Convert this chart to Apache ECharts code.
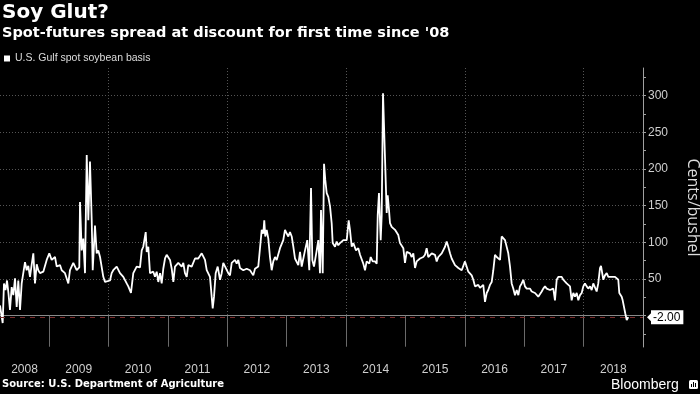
<!DOCTYPE html>
<html><head><meta charset="utf-8">
<script src="https://cdn.jsdelivr.net/npm/echarts@6/dist/echarts.min.js"></script>
<style>html,body{margin:0;padding:0;background:#000}#c{width:700px;height:394px}</style>
</head><body><div id="c"></div>
<script>
// Dates as decimal years
const dates = [
2008.175,2008.220,2008.242,2008.268,2008.293,2008.318,2008.343,2008.372,2008.399,2008.428,2008.456,2008.483,2008.512,2008.540,2008.596,2008.624,2008.651,2008.680,2008.709,2008.736,2008.764,2008.793,2008.820,2008.848,2008.904,2008.961,
2009.005,2009.045,2009.101,2009.130,2009.185,2009.214,2009.269,2009.325,2009.353,2009.409,2009.466,2009.510,2009.522,2009.550,2009.577,2009.606,2009.635,2009.662,2009.690,2009.719,2009.736,2009.774,2009.803,2009.830,2009.859,2009.914,2009.943,2009.971,
2010.027,2010.055,2010.082,2010.140,2010.195,2010.251,2010.308,2010.335,2010.380,2010.419,2010.476,2010.532,2010.561,2010.587,2010.628,2010.645,2010.672,2010.700,2010.756,2010.784,2010.813,2010.840,2010.869,2010.897,2010.924,2010.953,2010.981,
2011.037,2011.066,2011.093,2011.121,2011.177,2011.234,2011.261,2011.289,2011.318,2011.345,2011.402,2011.458,2011.513,2011.571,2011.626,2011.655,2011.710,2011.739,2011.756,2011.778,2011.806,2011.840,2011.879,2011.907,2011.934,2011.963,
2012.018,2012.047,2012.076,2012.131,2012.160,2012.187,2012.215,2012.271,2012.328,2012.384,2012.439,2012.468,2012.523,2012.552,2012.581,2012.608,2012.624,2012.641,2012.665,2012.692,2012.720,2012.749,2012.776,2012.805,2012.833,2012.889,2012.944,2012.973,
2013.002,2013.029,2013.057,2013.086,2013.113,2013.141,2013.170,2013.197,2013.226,2013.254,2013.310,2013.348,2013.382,2013.411,2013.433,2013.461,2013.507,2013.534,2013.562,2013.579,2013.608,2013.630,2013.651,2013.675,2013.702,2013.731,2013.759,2013.776,2013.815,2013.843,2013.870,2013.899,2013.955,
2014.012,2014.045,2014.067,2014.096,2014.123,2014.168,2014.207,2014.236,2014.291,2014.320,2014.348,2014.392,2014.416,2014.449,2014.488,2014.517,2014.534,2014.555,2014.584,2014.601,2014.623,2014.656,2014.668,2014.685,2014.702,2014.724,2014.741,2014.769,2014.796,2014.825,2014.853,2014.880,2014.909,2014.938,2014.965,2014.993,
2015.022,2015.049,2015.077,2015.106,2015.133,2015.162,2015.190,2015.217,2015.246,2015.274,2015.301,2015.330,2015.358,2015.385,2015.414,2015.443,2015.470,2015.498,2015.527,2015.554,2015.582,2015.611,2015.667,2015.695,2015.722,2015.751,2015.779,2015.835,2015.891,2015.948,2015.975,
2016.003,2016.032,2016.059,2016.116,2016.143,2016.172,2016.227,2016.256,2016.285,2016.311,2016.340,2016.369,2016.395,2016.424,2016.453,2016.480,2016.508,2016.537,2016.564,2016.593,2016.621,2016.648,2016.677,2016.705,2016.732,2016.761,2016.789,2016.816,2016.845,2016.874,2016.901,2016.929,2016.958,2016.985,
2017.013,2017.042,2017.069,2017.098,2017.126,2017.153,2017.182,2017.210,2017.237,2017.266,2017.295,2017.321,2017.350,2017.379,2017.406,2017.434,2017.463,2017.490,2017.518,2017.547,2017.574,2017.603,2017.631,2017.658,2017.687,2017.715,2017.742,2017.771,2017.799,2017.827,2017.855,2017.884,2017.911,2017.939,2017.968,2017.995,
2018.023,2018.052,2018.079,2018.108,2018.136,2018.163,2018.192,2018.220,2018.247,2018.276,2018.293,2018.332,2018.360,2018.389,2018.416,2018.444,2018.473,2018.500,2018.529,2018.557,2018.584,2018.601,2018.625,2018.641,2018.658,2018.680,2018.702,2018.726,2018.752
];
// U.S. Gulf spot soybean basis, cents/bushel
const basis = [
14,-10,44,35,48,30,8,39,28,51,12,48,8,44,73,62,68,53,70,85,44,70,62,58,60,76,
85,76,80,67,69,62,58,44,62,72,62,66,155,89,105,58,219,130,210,130,62,123,85,89,80,53,46,46,
48,58,62,67,58,53,44,40,31,58,67,66,89,94,114,87,94,58,60,53,60,46,58,44,64,78,83,
76,64,46,67,72,67,72,58,53,69,67,78,78,85,76,62,53,26,10,26,58,67,49,58,72,71,
58,55,72,76,71,76,65,62,64,62,55,64,67,69,117,112,130,108,117,105,80,62,74,80,76,92,103,117,
112,108,114,108,94,78,80,69,87,67,89,103,62,174,76,67,89,103,58,144,58,207,185,167,162,149,126,99,94,101,96,99,103,
103,130,117,94,99,89,92,83,71,62,74,71,80,74,74,71,137,167,103,137,303,303,185,140,164,144,126,121,123,117,117,110,99,99,92,72,
87,85,85,80,85,65,74,76,78,76,80,83,92,80,80,85,87,83,74,80,80,85,94,101,94,85,78,69,65,62,62,
74,72,60,55,49,40,42,38,38,42,19,31,35,42,46,62,83,80,78,76,108,110,103,101,85,67,44,37,28,35,28,40,44,49,
40,37,35,37,33,35,31,31,26,28,33,37,40,37,37,35,37,37,21,49,53,51,53,49,51,44,44,40,21,31,26,31,21,28,31,40,
44,40,37,40,35,44,42,33,44,65,68,49,55,58,53,55,53,54,53,52,49,31,33,26,21,19,3,-6,-2
];
const seriesName = 'U.S. Gulf spot soybean basis';
const xMin = 2008.175, xMax = 2019;
const yearBoundaries = [2009,2010,2011,2012,2013,2014,2015,2016,2017,2018];
const yearLabelPositions = [2008.5875,2009.5,2010.5,2011.5,2012.5,2013.5,2014.5,2015.5,2016.5,2017.5,2018.5];
const verticalGridYears = [2010,2012,2014,2016,2018];
const yMin = -42.6, yMax = 337.5;
const yLabelValues = [50,100,150,200,250,300];
const yMinorTickValues = [-25,0,25,75,125,175,225,275,325];
const lastValue = -2;

const chart = echarts.init(document.getElementById('c'), null, {renderer:'canvas'});
chart.setOption({
  backgroundColor:'#000',
  animation:false,
  title:[
    {text:'Soy Glut?', left:2, top:3, padding:0, textStyle:{color:'#fff', fontSize:20, fontWeight:'bold', fontFamily:'DejaVu Sans'}},
    {text:"Spot-futures spread at discount for first time since '08", left:2, top:26, padding:0, textStyle:{color:'#fff', fontSize:14.5, fontWeight:'bold', fontFamily:'DejaVu Sans'}},
    {text:'Source: U.S. Department of Agriculture', left:2, top:379, padding:0, textStyle:{color:'#fff', fontSize:10, fontWeight:'bold', fontFamily:'DejaVu Sans'}},
    {text:'Bloomberg', left:611, top:378, padding:0, textStyle:{color:'#fff', fontSize:14, fontWeight:'normal', fontFamily:'Liberation Sans'}}
  ],
  legend:{
    data:[seriesName], left:4, top:53, padding:0, icon:'rect', itemWidth:6, itemHeight:6,
    textStyle:{color:'#ddd', fontSize:10.5, fontFamily:'Liberation Sans'}
  },
  grid:{left:0, right:57, top:68, bottom:47, containLabel:false, outerBoundsMode:'none'},
  xAxis:[
    {type:'value', min:xMin, max:xMax, position:'bottom',
     axisLine:{show:true, lineStyle:{color:'#8a8a8a', width:1}},
     axisTick:{show:true, customValues:yearBoundaries, length:31, inside:false, lineStyle:{color:'#6a6a6a'}},
     axisLabel:{show:true, customValues:yearLabelPositions, formatter:v=>String(Math.floor(v)), color:'#cfcfcf', fontSize:12, fontFamily:'Liberation Sans', margin:17},
     splitLine:{show:false}},
    {type:'value', min:xMin, max:xMax, position:'top',
     axisLine:{show:false}, axisLabel:{show:false},
     axisTick:{show:false, customValues:verticalGridYears},
     splitLine:{show:true, lineStyle:{color:'#555', type:[1,2], width:1}}}
  ],
  yAxis:[
    {type:'value', position:'right', min:yMin, max:yMax,
     axisLine:{show:true, lineStyle:{color:'#a0a0a0', width:1}},
     axisTick:{show:true, customValues:yLabelValues, length:3, lineStyle:{color:'#a0a0a0'}},
     axisLabel:{show:true, customValues:yLabelValues, color:'#cfcfcf', fontSize:12, fontFamily:'Liberation Sans', margin:5},
     splitLine:{show:true, lineStyle:{color:'#555', type:[1,2], width:1}},
     name:'Cents/bushel', nameLocation:'middle', nameRotate:-90, nameGap:42,
     nameTextStyle:{color:'#ddd', fontSize:16, fontFamily:'Open Sans'}},
    {type:'value', position:'right', min:yMin, max:yMax,
     axisLine:{show:false}, axisLabel:{show:false}, splitLine:{show:false},
     axisTick:{show:true, customValues:yMinorTickValues, length:3, lineStyle:{color:'#a0a0a0'}}}
  ],
  series:[{
    name:seriesName, type:'line', xAxisIndex:0, yAxisIndex:0,
    data:dates.map((d,i)=>[d, basis[i]]),
    showSymbol:false, symbol:'none',
    lineStyle:{color:'#fff', width:1.8}, itemStyle:{color:'#fff'},
    markLine:{
      silent:true, symbol:'none', animation:false,
      data:[{yAxis:lastValue}],
      lineStyle:{color:'#7a2d2d', type:[5,5], width:1},
      label:{show:true, position:'end', distance:8, formatter:lastValue.toFixed(2),
             backgroundColor:'#fff', color:'#000', fontSize:12, fontFamily:'Liberation Sans', padding:[1,3,1,2]}
    },
    markPoint:{
      silent:true, animation:false,
      data:[{coord:[xMax, lastValue]}],
      symbol:'triangle', symbolRotate:90, symbolSize:[12,6], symbolOffset:[7,0],
      itemStyle:{color:'#fff'}, label:{show:false}
    }
  }],
  graphic:[
    {type:'group', left:689, top:380, children:[
      {type:'rect', shape:{x:0,y:0,width:9,height:9,r:1.5}, style:{fill:'#fff'}},
      {type:'rect', shape:{x:2,y:4,width:1,height:3}, style:{fill:'#000'}},
      {type:'rect', shape:{x:4,y:2,width:1,height:5}, style:{fill:'#000'}},
      {type:'rect', shape:{x:6,y:3,width:1,height:4}, style:{fill:'#000'}}
    ]}
  ]
});
</script></body></html>
